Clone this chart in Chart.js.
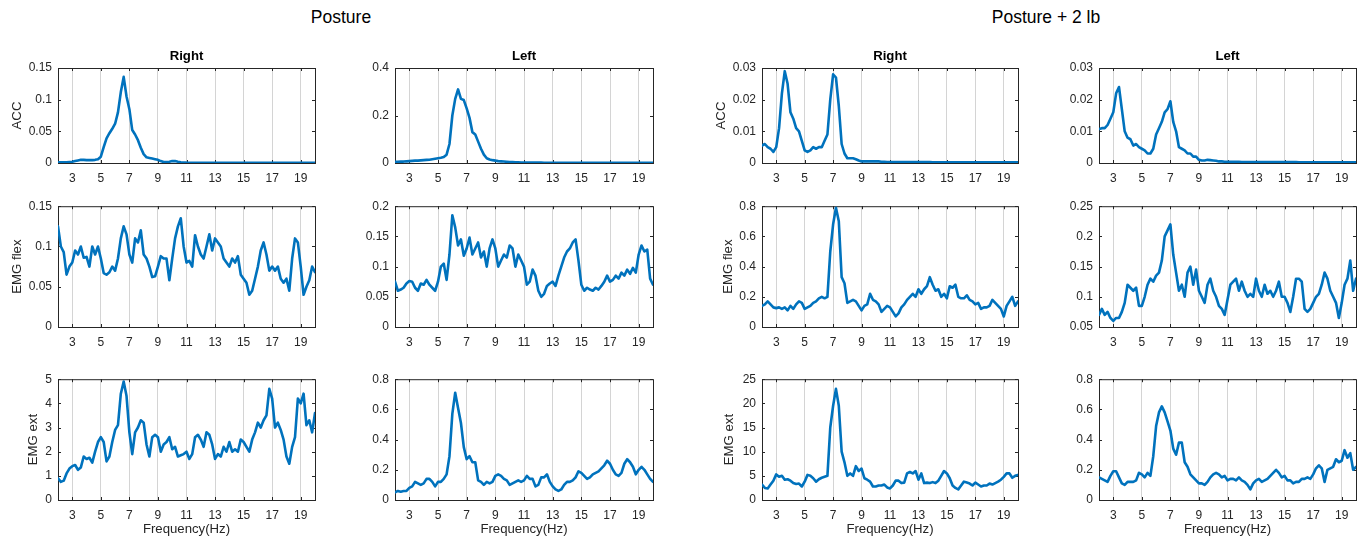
<!DOCTYPE html>
<html><head><meta charset="utf-8">
<script src="https://cdn.jsdelivr.net/npm/chart.js@4.4.1/dist/chart.umd.min.js"></script>
<style>
html,body{margin:0;padding:0;background:#fff;width:1364px;height:538px;overflow:hidden;position:relative;font-family:"Liberation Sans",Arial,sans-serif;}
canvas{position:absolute;}
.sup{position:absolute;top:7px;font-size:17.5px;line-height:20px;color:#000;white-space:nowrap;transform:translateX(-50%);}
</style></head><body>
<div class="sup" id="sup0" style="left:341px"></div>
<div class="sup" id="sup1" style="left:1046px"></div>
<script>
// ---------- text ----------
const groupTitles = ['Posture', 'Posture + 2 lb'];
const columnTitles = ['Right', 'Left', 'Right', 'Left'];
const rowLabels = ['ACC', 'EMG flex', 'EMG ext'];
const xAxisLabel = 'Frequency(Hz)';

// ---------- x axis ----------
const freqHz = [
 2,2.2,2.4,2.6,2.8,3,3.2,3.4,3.6,3.8,
 4,4.2,4.4,4.6,4.8,5,5.2,5.4,5.6,5.8,
 6,6.2,6.4,6.6,6.8,7,7.2,7.4,7.6,7.8,
 8,8.2,8.4,8.6,8.8,9,9.2,9.4,9.6,9.8,
 10,10.2,10.4,10.6,10.8,11,11.2,11.4,11.6,11.8,
 12,12.2,12.4,12.6,12.8,13,13.2,13.4,13.6,13.8,
 14,14.2,14.4,14.6,14.8,15,15.2,15.4,15.6,15.8,
 16,16.2,16.4,16.6,16.8,17,17.2,17.4,17.6,17.8,
 18,18.2,18.4,18.6,18.8,19,19.2,19.4,19.6,19.8,
 20];
const xTickValues = [3,5,7,9,11,13,15,17,19];
const xTickLabels = ['3','5','7','9','11','13','15','17','19'];

// ---------- series: Posture ----------
const postureRightAcc = [
 0.001,0.001,0.001,0.001,0.0015,0.002,0.003,0.004,0.005,0.005,
 0.0045,0.0045,0.0045,0.005,0.006,0.01,0.025,0.039,0.047,0.054,
 0.062,0.08,0.112,0.136,0.105,0.085,0.052,0.045,0.036,0.024,
 0.014,0.009,0.008,0.007,0.006,0.005,0.003,0.0015,0.0015,0.002,
 0.003,0.003,0.002,0.0012,0.0008,0.0006,0.0005,0.0005,0.0005,0.0005,
 0.0004,0.0004,0.0004,0.0004,0.0004,0.0004,0.0004,0.0004,0.0004,0.0004,
 0.0004,0.0004,0.0004,0.0003,0.0003,0.0003,0.0003,0.0003,0.0003,0.0003,
 0.0003,0.0003,0.0003,0.0003,0.0003,0.0003,0.0003,0.0003,0.0003,0.0003,
 0.0003,0.0003,0.0003,0.0003,0.0003,0.0003,0.0003,0.0003,0.0003,0.0003,
 0.0003];
const postureLeftAcc = [
 0.005,0.005,0.006,0.006,0.007,0.008,0.009,0.01,0.01,0.011,
 0.012,0.013,0.014,0.016,0.018,0.02,0.022,0.025,0.035,0.08,
 0.2,0.27,0.31,0.27,0.265,0.23,0.19,0.13,0.12,0.09,
 0.06,0.035,0.02,0.015,0.012,0.01,0.008,0.007,0.006,0.005,
 0.004,0.004,0.003,0.003,0.002,0.002,0.002,0.002,0.0015,0.0015,
 0.0015,0.0015,0.0012,0.0012,0.001,0.001,0.001,0.001,0.001,0.001,
 0.001,0.001,0.001,0.001,0.001,0.001,0.001,0.001,0.001,0.001,
 0.001,0.001,0.001,0.001,0.001,0.001,0.001,0.001,0.001,0.001,
 0.001,0.001,0.001,0.001,0.001,0.001,0.001,0.001,0.001,0.001,
 0.001];
const postureRightFlex = [
 0.125,0.1,0.093,0.065,0.075,0.08,0.095,0.09,0.1,0.086,
 0.087,0.075,0.1,0.09,0.1,0.085,0.067,0.065,0.068,0.075,
 0.07,0.085,0.11,0.125,0.115,0.09,0.08,0.11,0.105,0.12,
 0.09,0.085,0.075,0.062,0.063,0.075,0.088,0.085,0.085,0.058,
 0.085,0.11,0.125,0.135,0.1,0.08,0.082,0.075,0.114,0.1,
 0.09,0.085,0.1,0.115,0.095,0.11,0.105,0.1,0.085,0.08,
 0.075,0.085,0.08,0.088,0.065,0.06,0.055,0.04,0.045,0.06,
 0.075,0.095,0.105,0.09,0.07,0.075,0.07,0.075,0.06,0.055,
 0.06,0.045,0.085,0.11,0.105,0.075,0.04,0.05,0.058,0.075,
 0.068];
const postureLeftFlex = [
 0.075,0.06,0.062,0.065,0.072,0.076,0.075,0.065,0.06,0.072,
 0.07,0.078,0.07,0.065,0.06,0.075,0.1,0.105,0.078,0.12,
 0.185,0.165,0.135,0.145,0.118,0.13,0.148,0.12,0.13,0.14,
 0.115,0.125,0.1,0.13,0.145,0.13,0.1,0.11,0.12,0.115,
 0.135,0.13,0.1,0.12,0.11,0.1,0.07,0.075,0.095,0.085,
 0.06,0.05,0.055,0.068,0.072,0.075,0.068,0.085,0.1,0.115,
 0.125,0.13,0.14,0.145,0.11,0.07,0.06,0.065,0.062,0.06,
 0.065,0.062,0.068,0.075,0.085,0.075,0.078,0.085,0.08,0.09,
 0.085,0.095,0.088,0.098,0.09,0.12,0.135,0.125,0.128,0.08,
 0.07];
const postureRightExt = [
 0.9,0.75,0.8,1.1,1.3,1.4,1.45,1.25,1.35,1.8,
 1.7,1.75,1.55,2.0,2.4,2.6,2.4,1.6,1.8,2.4,
 2.9,3.1,4.4,4.9,4.3,2.8,1.9,2.8,3.0,3.3,
 3.2,2.3,1.8,2.6,2.7,2.6,2.0,2.3,2.4,2.6,
 2.1,2.2,1.8,1.85,1.9,2.0,1.7,1.9,2.6,2.7,
 2.5,2.2,2.8,2.7,2.3,1.7,1.9,1.8,2.2,2.0,
 2.4,2.0,2.1,2.0,2.5,2.4,2.2,2.0,2.5,2.8,
 3.2,3.0,3.3,3.5,4.6,4.2,3.0,3.2,2.9,2.5,
 1.8,1.5,2.2,2.6,4.2,4.0,4.4,3.1,3.3,2.8,
 3.6];
const postureLeftExt = [
 0.05,0.06,0.055,0.06,0.06,0.08,0.09,0.12,0.11,0.1,
 0.11,0.14,0.14,0.12,0.09,0.12,0.12,0.14,0.17,0.29,
 0.57,0.71,0.61,0.51,0.35,0.27,0.29,0.25,0.25,0.13,
 0.12,0.1,0.12,0.11,0.12,0.16,0.17,0.16,0.14,0.13,
 0.1,0.11,0.12,0.13,0.12,0.13,0.16,0.14,0.14,0.09,
 0.1,0.15,0.15,0.17,0.12,0.09,0.07,0.06,0.07,0.1,
 0.12,0.12,0.13,0.15,0.19,0.18,0.16,0.14,0.15,0.17,
 0.18,0.19,0.21,0.23,0.26,0.24,0.2,0.17,0.16,0.18,
 0.24,0.27,0.25,0.22,0.17,0.2,0.22,0.2,0.17,0.14,
 0.12];

// ---------- series: Posture + 2 lb ----------
const loadRightAcc = [
 0.0055,0.006,0.005,0.0045,0.0035,0.005,0.011,0.022,0.029,0.025,
 0.016,0.014,0.011,0.01,0.007,0.004,0.0035,0.004,0.005,0.0045,
 0.005,0.005,0.007,0.009,0.02,0.028,0.027,0.018,0.006,0.003,
 0.0015,0.0015,0.0015,0.0012,0.0008,0.0005,0.0005,0.0005,0.0005,0.0005,
 0.0005,0.0005,0.0004,0.0004,0.0003,0.0003,0.0003,0.0003,0.0003,0.0003,
 0.0003,0.0003,0.0003,0.0003,0.0003,0.0003,0.0003,0.0003,0.0003,0.0003,
 0.0002,0.0002,0.0002,0.0002,0.0002,0.0002,0.0002,0.0002,0.0002,0.0002,
 0.0002,0.0002,0.0002,0.0002,0.0002,0.0002,0.0002,0.0002,0.0002,0.0002,
 0.0002,0.0002,0.0002,0.0002,0.0002,0.0002,0.0002,0.0002,0.0002,0.0002,
 0.0002];
const loadLeftAcc = [
 0.0107,0.011,0.011,0.012,0.014,0.016,0.022,0.024,0.017,0.01,
 0.008,0.0075,0.0055,0.006,0.005,0.0045,0.004,0.003,0.003,0.0045,
 0.009,0.011,0.013,0.016,0.017,0.0195,0.013,0.01,0.005,0.0045,
 0.004,0.003,0.003,0.002,0.002,0.001,0.0008,0.0008,0.001,0.0009,
 0.0008,0.0007,0.0005,0.0005,0.0004,0.0004,0.0004,0.0004,0.0004,0.0004,
 0.0003,0.0003,0.0003,0.0003,0.0003,0.0003,0.0003,0.0003,0.0003,0.0003,
 0.0003,0.0003,0.0003,0.0003,0.0003,0.0003,0.0003,0.0003,0.0003,0.0003,
 0.0002,0.0002,0.0002,0.0002,0.0002,0.0002,0.0002,0.0002,0.0002,0.0002,
 0.0002,0.0002,0.0002,0.0002,0.0002,0.0002,0.0002,0.0002,0.0002,0.0002,
 0.0002];
const loadRightFlex = [
 0.14,0.15,0.17,0.15,0.13,0.125,0.13,0.12,0.13,0.11,
 0.14,0.12,0.15,0.17,0.16,0.12,0.13,0.14,0.16,0.17,
 0.19,0.2,0.19,0.2,0.5,0.68,0.79,0.7,0.33,0.29,
 0.16,0.17,0.18,0.17,0.14,0.11,0.14,0.15,0.22,0.18,
 0.17,0.15,0.1,0.12,0.14,0.13,0.1,0.07,0.09,0.13,
 0.15,0.18,0.2,0.22,0.2,0.25,0.22,0.25,0.27,0.33,
 0.28,0.24,0.25,0.2,0.22,0.19,0.27,0.26,0.28,0.2,
 0.19,0.19,0.21,0.18,0.17,0.15,0.16,0.12,0.13,0.13,
 0.14,0.18,0.16,0.14,0.12,0.07,0.14,0.17,0.2,0.14,
 0.17];
const loadLeftFlex = [
 0.07,0.08,0.07,0.075,0.065,0.06,0.065,0.065,0.075,0.09,
 0.12,0.115,0.11,0.115,0.085,0.085,0.1,0.12,0.13,0.125,
 0.135,0.14,0.16,0.2,0.21,0.22,0.17,0.14,0.11,0.12,
 0.1,0.14,0.15,0.12,0.145,0.11,0.1,0.09,0.12,0.13,
 0.11,0.1,0.085,0.08,0.07,0.095,0.12,0.125,0.13,0.11,
 0.125,0.11,0.1,0.105,0.1,0.13,0.11,0.1,0.12,0.105,
 0.11,0.1,0.11,0.125,0.1,0.1,0.09,0.075,0.1,0.13,
 0.13,0.125,0.08,0.075,0.08,0.09,0.1,0.105,0.12,0.14,
 0.13,0.11,0.1,0.09,0.065,0.09,0.12,0.13,0.16,0.11,
 0.13];
const loadRightExt = [
 3.2,2.5,2.4,3.2,4.0,5.3,4.8,5.0,4.2,4.3,
 4.0,3.5,3.3,3.4,2.8,3.8,5.2,5.0,4.5,3.8,
 4.3,4.6,4.8,5.0,15.0,19.5,23.0,19.5,10.0,7.8,
 5.0,5.5,5.0,7.0,6.0,6.5,4.5,4.2,3.8,2.8,
 2.8,3.0,3.0,3.2,2.6,2.4,3.0,4.0,4.0,3.5,
 3.6,5.5,5.8,5.5,6.0,4.2,5.5,3.5,3.6,3.5,
 3.7,3.5,4.0,5.0,6.0,5.5,4.5,3.0,2.5,2.2,
 3.0,3.8,3.6,3.4,3.0,3.6,3.2,2.8,3.0,3.0,
 3.4,3.2,3.5,3.8,4.2,4.8,5.5,5.5,4.6,5.0,
 5.2];
const loadLeftExt = [
 0.15,0.14,0.13,0.12,0.16,0.19,0.19,0.15,0.11,0.1,
 0.12,0.12,0.12,0.13,0.18,0.17,0.15,0.18,0.16,0.29,
 0.49,0.58,0.62,0.58,0.52,0.46,0.34,0.3,0.38,0.38,
 0.25,0.22,0.17,0.15,0.13,0.11,0.11,0.1,0.12,0.15,
 0.17,0.18,0.17,0.15,0.16,0.13,0.14,0.14,0.13,0.15,
 0.13,0.12,0.1,0.07,0.11,0.13,0.14,0.12,0.13,0.14,
 0.16,0.18,0.2,0.18,0.15,0.16,0.13,0.13,0.11,0.12,
 0.12,0.14,0.14,0.15,0.14,0.17,0.21,0.23,0.21,0.12,
 0.2,0.21,0.22,0.27,0.25,0.26,0.33,0.28,0.31,0.2,
 0.22];

// ---------- y ticks ----------
const yTicksPostureRightAcc = [0,0.05,0.1,0.15];   const yLabelsPostureRightAcc = ['0','0.05','0.1','0.15'];
const yTicksPostureLeftAcc  = [0,0.2,0.4];         const yLabelsPostureLeftAcc  = ['0','0.2','0.4'];
const yTicksLoadRightAcc    = [0,0.01,0.02,0.03];  const yLabelsLoadRightAcc    = ['0','0.01','0.02','0.03'];
const yTicksLoadLeftAcc     = [0,0.01,0.02,0.03];  const yLabelsLoadLeftAcc     = ['0','0.01','0.02','0.03'];
const yTicksPostureRightFlex = [0,0.05,0.1,0.15];  const yLabelsPostureRightFlex = ['0','0.05','0.1','0.15'];
const yTicksPostureLeftFlex  = [0,0.05,0.1,0.15,0.2]; const yLabelsPostureLeftFlex = ['0','0.05','0.1','0.15','0.2'];
const yTicksLoadRightFlex   = [0,0.2,0.4,0.6,0.8]; const yLabelsLoadRightFlex   = ['0','0.2','0.4','0.6','0.8'];
const yTicksLoadLeftFlex    = [0.05,0.1,0.15,0.2,0.25]; const yLabelsLoadLeftFlex = ['0.05','0.1','0.15','0.2','0.25'];
const yTicksPostureRightExt = [0,1,2,3,4,5];       const yLabelsPostureRightExt = ['0','1','2','3','4','5'];
const yTicksPostureLeftExt  = [0,0.2,0.4,0.6,0.8]; const yLabelsPostureLeftExt  = ['0','0.2','0.4','0.6','0.8'];
const yTicksLoadRightExt    = [0,5,10,15,20,25];   const yLabelsLoadRightExt    = ['0','5','10','15','20','25'];
const yTicksLoadLeftExt     = [0,0.2,0.4,0.6,0.8]; const yLabelsLoadLeftExt    = ['0','0.2','0.4','0.6','0.8'];

// ---------- layout (pixels) ----------
const colLeft = [58, 395, 762, 1099];
const colWidth = [257, 258, 256, 257];
const rowTop = [68, 203, 376];
const rowHeight = [95, 124, 124];
const yLabelPad = { '0-0': 7.5, '0-1': 7.4, '0-2': 23.2, '2-0': 7.4, '2-1': 14.1, '2-2': 15.7 };

const panels = [
 {col:0,row:0,values:postureRightAcc,yTicks:yTicksPostureRightAcc,yLabels:yLabelsPostureRightAcc},
 {col:1,row:0,values:postureLeftAcc,yTicks:yTicksPostureLeftAcc,yLabels:yLabelsPostureLeftAcc},
 {col:2,row:0,values:loadRightAcc,yTicks:yTicksLoadRightAcc,yLabels:yLabelsLoadRightAcc},
 {col:3,row:0,values:loadLeftAcc,yTicks:yTicksLoadLeftAcc,yLabels:yLabelsLoadLeftAcc},
 {col:0,row:1,values:postureRightFlex,yTicks:yTicksPostureRightFlex,yLabels:yLabelsPostureRightFlex},
 {col:1,row:1,values:postureLeftFlex,yTicks:yTicksPostureLeftFlex,yLabels:yLabelsPostureLeftFlex},
 {col:2,row:1,values:loadRightFlex,yTicks:yTicksLoadRightFlex,yLabels:yLabelsLoadRightFlex},
 {col:3,row:1,values:loadLeftFlex,yTicks:yTicksLoadLeftFlex,yLabels:yLabelsLoadLeftFlex},
 {col:0,row:2,values:postureRightExt,yTicks:yTicksPostureRightExt,yLabels:yLabelsPostureRightExt},
 {col:1,row:2,values:postureLeftExt,yTicks:yTicksPostureLeftExt,yLabels:yLabelsPostureLeftExt},
 {col:2,row:2,values:loadRightExt,yTicks:yTicksLoadRightExt,yLabels:yLabelsLoadRightExt},
 {col:3,row:2,values:loadLeftExt,yTicks:yTicksLoadLeftExt,yLabels:yLabelsLoadLeftExt}
];

document.getElementById('sup0').textContent = groupTitles[0];
document.getElementById('sup1').textContent = groupTitles[1];

const FONT = '"Liberation Sans", Arial, Helvetica, sans-serif';
Chart.defaults.font.family = FONT;
Chart.defaults.color = '#262626';

const AX = '#262626';
const boxPlugin = {
  id: 'matlabBox',
  beforeDatasetsDraw(chart) {
    const {ctx, chartArea: a, scales: {x, y}} = chart;
    ctx.save();
    ctx.strokeStyle = AX;
    ctx.lineWidth = 1;
    ctx.strokeRect(a.left + 0.5, a.top + 0.5, a.right - a.left, a.bottom - a.top);
    ctx.beginPath();
    const tl = 3;
    y.ticks.forEach(t => {
      const py = Math.round(y.getPixelForValue(t.value)) + 0.5;
      ctx.moveTo(a.left, py); ctx.lineTo(a.left + tl, py);
      ctx.moveTo(a.right, py); ctx.lineTo(a.right - tl, py);
    });
    x.ticks.forEach(t => {
      const px = Math.round(x.getPixelForValue(t.value)) + 0.5;
      ctx.moveTo(px, a.bottom); ctx.lineTo(px, a.bottom - tl);
      ctx.moveTo(px, a.top); ctx.lineTo(px, a.top + tl);
    });
    ctx.stroke();
    ctx.restore();
  }
};

function makePanel(p) {
  const L = colLeft[p.col], W = colWidth[p.col], T = rowTop[p.row], H = rowHeight[p.row];
  const YW = 56, RP = 8;
  const TP = p.row === 0 ? 30 : 10;
  const XH = p.row === 2 ? 42 : 24;
  const cv = document.createElement('canvas');
  const cw = YW + W + RP, ch = TP + H + XH;
  cv.width = cw; cv.height = ch;
  cv.style.width = cw + 'px'; cv.style.height = ch + 'px';
  cv.style.left = (L - YW) + 'px'; cv.style.top = (T - TP) + 'px';
  document.body.appendChild(cv);
  const showY = (p.col === 0 || p.col === 2);
  const hasTop = p.row === 0;
  const key = p.col + '-' + p.row;
  const scales = {
    x: {
      type: 'linear', position: 'bottom', min: 2, max: 20,
      afterBuildTicks: s => { s.ticks = xTickValues.map(v => ({value: v})); },
      afterFit: s => { s.height = XH; },
      ticks: {autoSkip: false, maxRotation: 0, padding: 8, color: AX,
        font: {size: 12, family: FONT, lineHeight: 1.2},
        callback: v => xTickLabels[xTickValues.indexOf(v)]},
      grid: {display: true, color: '#d4d4d4', lineWidth: 1, drawTicks: false},
      border: {display: false},
      title: {display: p.row === 2, text: xAxisLabel, color: AX,
        font: {size: 13.2, family: FONT, lineHeight: 1.2}, padding: {top: 0, bottom: 4.5}}
    },
    y: {
      type: 'linear', min: p.yTicks[0], max: p.yTicks[p.yTicks.length - 1],
      afterBuildTicks: s => { s.ticks = p.yTicks.map(v => ({value: v})); },
      afterFit: s => { s.width = YW; },
      ticks: {autoSkip: false, padding: 6, color: AX,
        font: {size: 12, family: FONT, lineHeight: 1.2},
        callback: v => p.yLabels[p.yTicks.indexOf(v)]},
      grid: {display: false, drawTicks: false},
      border: {display: false},
      title: {display: showY, text: rowLabels[p.row], color: AX,
        font: {size: 13.2, family: FONT, lineHeight: 1.2},
        padding: {top: showY ? yLabelPad[key] : 0, bottom: 0}}
    }
  };
  if (hasTop) {
    scales.xTop = {
      type: 'linear', position: 'top', axis: 'x', min: 2, max: 20, display: true,
      afterFit: s => { s.height = TP; },
      ticks: {display: false},
      grid: {display: false, drawTicks: false},
      border: {display: false},
      title: {display: true, text: columnTitles[p.col], color: '#000',
        font: {size: 13.2, weight: 'bold', family: FONT, lineHeight: 1.2},
        padding: {top: 10, bottom: 0}}
    };
  }
  new Chart(cv, {
    type: 'line',
    data: {
      datasets: [{
        data: freqHz.map((f, i) => ({x: f, y: p.values[i]})),
        xAxisID: 'x', yAxisID: 'y',
        borderColor: '#0072BD', borderWidth: 2.6, pointRadius: 0, tension: 0, fill: false,
        borderJoinStyle: 'round', borderCapStyle: 'round'
      }]
    },
    options: {
      responsive: false, animation: false, devicePixelRatio: 1,
      layout: {padding: {top: hasTop ? 0 : TP, right: RP, left: 0, bottom: 0}},
      plugins: {legend: {display: false}, tooltip: {enabled: false}, title: {display: false}},
      scales: scales
    },
    plugins: [boxPlugin]
  });
}
panels.forEach(makePanel);
</script>
</body></html>
